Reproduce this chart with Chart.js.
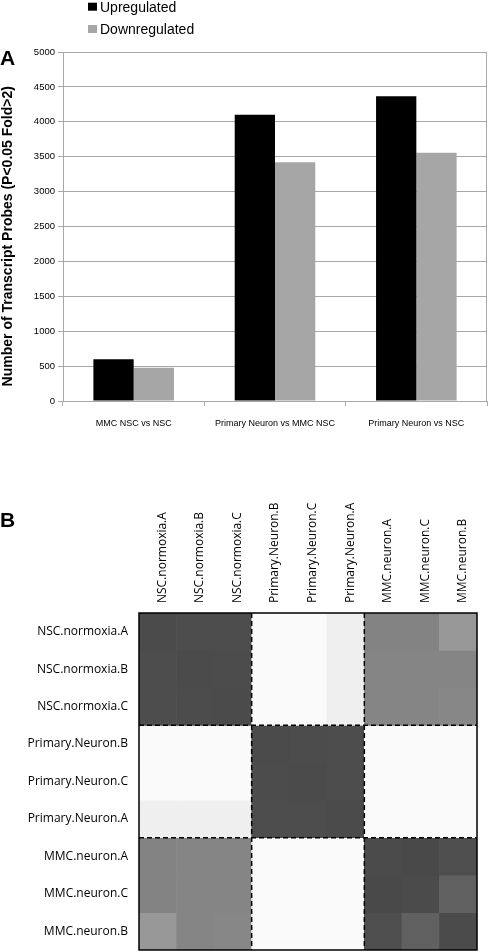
<!DOCTYPE html>
<html>
<head>
<meta charset="utf-8">
<script src="https://cdn.jsdelivr.net/npm/chart.js@4.4.1/dist/chart.umd.min.js"></script>
<style>
  html, body { margin: 0; padding: 0; background: #fff; }
  body { width: 488px; height: 952px; position: relative; overflow: hidden; }
  #boxA { position: absolute; left: 0; top: 0; width: 488px; height: 435px; }
  #boxB { position: absolute; left: 0; top: 440px; width: 488px; height: 512px; }
</style>
</head>
<body>
<div id="boxA"><canvas id="barChart"></canvas></div>
<div id="boxB"><canvas id="heatChart"></canvas></div>
<script>
// panel A data
const comparisons = ["MMC NSC vs NSC", "Primary Neuron vs MMC NSC", "Primary Neuron vs NSC"];
const upregulated = [597, 4100, 4366];
const downregulated = [477, 3419, 3557];

// panel B data (grey level of each cell, 0 = black, 255 = white)
const sampleLabels = [
    "NSC.normoxia.A", "NSC.normoxia.B", "NSC.normoxia.C",
    "Primary.Neuron.B", "Primary.Neuron.C", "Primary.Neuron.A",
    "MMC.neuron.A", "MMC.neuron.C", "MMC.neuron.B",
];
const rowNSCa = [75, 77, 77, 250, 250, 239, 131, 131, 152];
const rowNSCb = [77, 75, 76, 250, 250, 239, 133, 133, 133];
const rowNSCc = [77, 76, 75, 250, 250, 239, 133, 133, 135];
const rowPrimB = [250, 250, 250, 75, 76, 77, 250, 250, 250];
const rowPrimC = [250, 250, 250, 76, 75, 77, 250, 250, 250];
const rowPrimA = [239, 239, 239, 77, 77, 75, 250, 250, 250];
const rowMMCa = [131, 133, 133, 250, 250, 250, 75, 73, 78];
const rowMMCc = [131, 133, 133, 250, 250, 250, 73, 75, 96];
const rowMMCb = [152, 133, 135, 250, 250, 250, 78, 96, 75];
const heatRows = [rowNSCa, rowNSCb, rowNSCc, rowPrimB, rowPrimC, rowPrimA, rowMMCa, rowMMCc, rowMMCb];

Chart.defaults.font.family = "'Liberation Sans', Arial, sans-serif";
Chart.defaults.color = "#000";

const gridGrey = "#a8a8a8";

const letterPlugin = {
    id: "panelLetter",
    afterDraw(chart, args, opts) {
        const ctx = chart.ctx;
        ctx.save();
        ctx.font = "bold 21px 'Liberation Sans', Arial, sans-serif";
        ctx.fillStyle = "#000";
        ctx.textBaseline = "alphabetic";
        ctx.fillText(opts.text, opts.x, opts.y);
        ctx.restore();
    },
};

// stacked legend drawn above the plot
const stackLegend = {
    id: "stackLegend",
    afterDraw(chart) {
        const ctx = chart.ctx;
        ctx.save();
        ctx.font = "14px 'Liberation Sans', Arial, sans-serif";
        ctx.textBaseline = "alphabetic";
        chart.data.datasets.forEach((ds, i) => {
            const base = 11.7 + i * 22.3;
            ctx.fillStyle = ds.backgroundColor;
            ctx.fillRect(88, base - 9, 9, 8);
            ctx.fillStyle = "#000";
            ctx.fillText(ds.label, 100, base);
        });
        // right frame line of the plot
        const a = chart.chartArea;
        ctx.strokeStyle = gridGrey;
        ctx.lineWidth = 1;
        ctx.beginPath();
        ctx.moveTo(a.right - 0.5, a.top);
        ctx.lineTo(a.right - 0.5, a.bottom);
        ctx.stroke();
        ctx.restore();
    },
};

new Chart(document.getElementById("barChart"), {
    type: "bar",
    data: {
        labels: comparisons,
        datasets: [
            { label: "Upregulated", data: upregulated, backgroundColor: "#000000" },
            { label: "Downregulated", data: downregulated, backgroundColor: "#a6a6a6" },
        ],
    },
    options: {
        responsive: true,
        maintainAspectRatio: false,
        animation: false,
        categoryPercentage: 0.57,
        barPercentage: 1,
        layout: { padding: { top: 52, right: 1, left: 0, bottom: 0 } },
        plugins: {
            legend: { display: false },
            tooltip: { enabled: false },
            panelLetter: { text: "A", x: 0, y: 65 },
        },
        scales: {
            x: {
                afterFit: (s) => { s.height = 34; },
                grid: { offset: true, drawOnChartArea: false, tickLength: 5, color: gridGrey },
                border: { color: gridGrey },
                ticks: { font: { size: 9 }, padding: 12, maxRotation: 0 },
            },
            y: {
                min: 0,
                max: 5000,
                afterFit: (s) => { s.width = 63; },
                ticks: {
                    stepSize: 500,
                    font: { size: 9.5 },
                    padding: 3,
                    callback: (v) => String(v),
                },
                grid: { color: gridGrey, tickLength: 5 },
                border: { color: gridGrey },
                title: {
                    display: true,
                    // trailing spaces push the centred text a little lower, as in the original
                    text: "Number of Transcript Probes (P<0.05 Fold>2)\u00a0\u00a0\u00a0\u00a0\u00a0",
                    font: { size: 14, weight: "bold" },
                    padding: { top: 0, bottom: 0 },
                },
            },
        },
    },
    plugins: [letterPlugin, stackLegend],
});

// frame and dashed block separators of the heatmap
const heatFrame = {
    id: "heatFrame",
    afterDatasetsDraw(chart) {
        const ctx = chart.ctx;
        const a = chart.chartArea;
        const xs = chart.scales.x;
        const ys = chart.scales.y;
        ctx.save();
        ctx.strokeStyle = "#000";
        ctx.lineWidth = 1.5;
        ctx.setLineDash([5, 3]);
        [2.5, 5.5].forEach((c) => {
            const x = xs.getPixelForValue(c);
            ctx.beginPath();
            ctx.moveTo(x, a.top);
            ctx.lineTo(x, a.bottom);
            ctx.stroke();
        });
        [3, 6].forEach((r) => {
            const y = ys.getPixelForValue(r);
            ctx.beginPath();
            ctx.moveTo(a.left, y);
            ctx.lineTo(a.right, y);
            ctx.stroke();
        });
        ctx.setLineDash([]);
        ctx.strokeRect(a.left, a.top, a.right - a.left, a.bottom - a.top);
        ctx.restore();
    },
};

const grey = (v) => `rgb(${v},${v},${v})`;

new Chart(document.getElementById("heatChart"), {
    type: "bar",
    data: {
        labels: sampleLabels,
        datasets: heatRows.map((row, i) => ({
            label: sampleLabels[i],
            data: row.map(() => 1),
            backgroundColor: row.map(grey),
            borderWidth: 0,
        })),
    },
    options: {
        responsive: true,
        maintainAspectRatio: false,
        animation: false,
        categoryPercentage: 1,
        barPercentage: 1,
        layout: { padding: { top: 0, right: 11, left: 0, bottom: 2 } },
        plugins: {
            legend: { display: false },
            tooltip: { enabled: false },
            panelLetter: { text: "B", x: 0, y: 87 },
        },
        scales: {
            x: {
                position: "top",
                stacked: true,
                afterFit: (s) => {
                    s.height = 173;
                    s.paddingLeft = 0;
                    s.paddingRight = 0;
                },
                grid: { display: false, drawTicks: false },
                border: { display: false },
                ticks: {
                    minRotation: 90,
                    maxRotation: 90,
                    autoSkip: false,
                    padding: 10,
                    labelOffset: 19,
                    font: { family: "'Open Sans', sans-serif", size: 12 },
                },
            },
            y: {
                stacked: true,
                reverse: true,
                min: 0,
                max: 9,
                afterFit: (s) => {
                    s.width = 139;
                    s.paddingTop = 0;
                    s.paddingBottom = 0;
                },
                afterBuildTicks: (s) => {
                    s.ticks = sampleLabels.map((_, i) => ({ value: i + 0.5 }));
                },
                grid: { display: false, drawTicks: false },
                border: { display: false },
                ticks: {
                    autoSkip: false,
                    padding: 11,
                    font: { family: "'Open Sans', sans-serif", size: 12 },
                    callback: (v) => sampleLabels[Math.floor(v)],
                },
            },
        },
    },
    plugins: [letterPlugin, heatFrame],
});
</script>
</body>
</html>
